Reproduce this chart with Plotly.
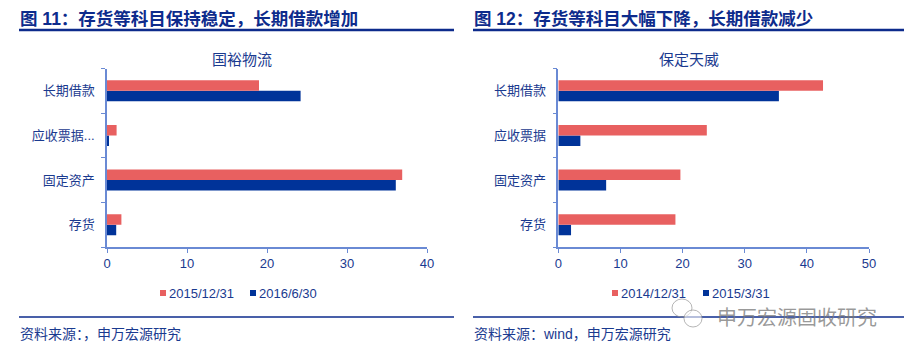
import plotly.graph_objects as go

W, H = 914, 352

# ---- data ----
cats_left = ["存货", "固定资产", "应收票据...", "长期借款"]
left_2015_12_31 = [1.8, 36.9, 1.2, 19.0]
left_2016_6_30 = [1.15, 36.1, 0.2, 24.2]

cats_right = ["存货", "固定资产", "应收票据", "长期借款"]
right_2014_12_31 = [18.85, 19.65, 23.9, 42.6]
right_2015_3_31 = [2.05, 7.7, 3.55, 35.5]

left_ticks = [0, 10, 20, 30, 40]
right_ticks = [0, 10, 20, 30, 40, 50]

title_left = "图 11：存货等科目保持稳定，长期借款增加"
title_right = "图 12：存货等科目大幅下降，长期借款减少"
sub_left = "国裕物流"
sub_right = "保定天威"
src_left = "资料来源：，申万宏源研究"
src_right = "资料来源：wind，申万宏源研究"
legend_left = ["2015/12/31", "2016/6/30"]
legend_right = ["2014/12/31", "2015/3/31"]
watermark = "申万宏源固收研究"

RED = "#E86060"
BLUE = "#003399"
NAVY = "#0D2B8C"
TXT = "#1A3A8F"
AXIS = "#6A8AD4"
FONT = "Liberation Sans, Arial, Noto Sans CJK SC, sans-serif"


def px(x):
    return x / W


def py(y):
    return 1 - y / H


fig = go.Figure()

fig.add_trace(go.Bar(y=cats_left, x=left_2016_6_30, orientation="h", marker_color=BLUE,
                     marker_line_width=0, xaxis="x", yaxis="y", showlegend=False, name=legend_left[1]))
fig.add_trace(go.Bar(y=cats_left, x=left_2015_12_31, orientation="h", marker_color=RED,
                     marker_line_width=0, xaxis="x", yaxis="y", showlegend=False, name=legend_left[0]))
fig.add_trace(go.Bar(y=cats_right, x=right_2015_3_31, orientation="h", marker_color=BLUE,
                     marker_line_width=0, xaxis="x2", yaxis="y2", showlegend=False, name=legend_right[1]))
fig.add_trace(go.Bar(y=cats_right, x=right_2014_12_31, orientation="h", marker_color=RED,
                     marker_line_width=0, xaxis="x2", yaxis="y2", showlegend=False, name=legend_right[0]))

ydom = [py(247), py(68.5)]

xcommon = dict(showgrid=False, zeroline=False, showline=True, linecolor=AXIS, linewidth=1.5,
               ticks="outside", ticklen=4, tickcolor=AXIS, tickwidth=1.2, automargin=False,
               tickfont=dict(family=FONT, size=13, color=TXT), fixedrange=True)
ycommon = dict(showgrid=False, zeroline=False, showline=True, linecolor=AXIS, linewidth=1.5,
               ticks="outside", ticklen=4, tickcolor=AXIS, tickwidth=1.2, tickson="boundaries",
               automargin=False,
               tickfont=dict(family=FONT, size=13, color=TXT), ticklabelstandoff=8, fixedrange=True)

fig.update_layout(
    template="none",
    width=W, height=H,
    margin=dict(l=0, r=0, t=0, b=0, pad=0),
    paper_bgcolor="white", plot_bgcolor="white",
    barmode="group", bargap=0.53, bargroupgap=0,
    showlegend=False,
    xaxis=dict(domain=[px(107), px(427)], range=[0, 40], tickvals=left_ticks, anchor="y", **xcommon),
    yaxis=dict(domain=ydom, anchor="x", categoryorder="array", categoryarray=cats_left, **ycommon),
    xaxis2=dict(domain=[px(558.3), px(869)], range=[0, 50], tickvals=right_ticks, anchor="y2", **xcommon),
    yaxis2=dict(domain=ydom, anchor="x2", categoryorder="array", categoryarray=cats_right, **ycommon),
    font=dict(family=FONT, color=TXT),
)

ann = []


def add_text(x, y, text, size, color=TXT, xanchor="left", bold=False):
    ann.append(dict(x=px(x), y=py(y), xref="paper", yref="paper", text=(f"<b>{text}</b>" if bold else text),
                    showarrow=False, xanchor=xanchor, yanchor="middle",
                    font=dict(family=FONT, size=size, color=color)))


add_text(18, 19, title_left, 17.5, NAVY, bold=True)
add_text(472, 19, title_right, 17.5, NAVY, bold=True)
add_text(242, 59, sub_left, 15, TXT, xanchor="center")
add_text(689, 59, sub_right, 15, TXT, xanchor="center")
add_text(18, 334, src_left, 14, TXT)
add_text(472, 334, src_right, 14, TXT)


def legend_item(x, label):
    ann.append(dict(x=px(x), y=py(293), xref="paper", yref="paper", text=label, showarrow=False,
                    xanchor="left", yanchor="middle", font=dict(family=FONT, size=13, color=TXT)))


shapes = []


def swatch(x, color):
    shapes.append(dict(type="rect", xref="paper", yref="paper", x0=px(x), x1=px(x + 6),
                       y0=py(296), y1=py(290), fillcolor=color, line=dict(width=0)))


swatch(160, RED); legend_item(167, legend_left[0])
swatch(250, BLUE); legend_item(257, legend_left[1])
swatch(612, RED); legend_item(619, legend_right[0])
swatch(703, BLUE); legend_item(710, legend_right[1])

for x0, x1 in [(19, 454), (473, 904)]:
    shapes.append(dict(type="line", xref="paper", yref="paper", x0=px(x0), x1=px(x1),
                       y0=py(30), y1=py(30), line=dict(color=NAVY, width=2.5)))
    shapes.append(dict(type="line", xref="paper", yref="paper", x0=px(x0), x1=px(x1),
                       y0=py(317), y1=py(317), line=dict(color=NAVY, width=1.5)))

# watermark overlay
ann.append(dict(x=px(797), y=py(316), xref="paper", yref="paper", text=watermark, showarrow=False,
                xanchor="center", yanchor="middle",
                font=dict(family="Noto Sans CJK SC, sans-serif", size=20, color="rgba(120,120,120,0.75)")))
shapes.append(dict(type="circle", xref="paper", yref="paper", x0=px(672), x1=px(692), y0=py(317), y1=py(299),
                   line=dict(color="rgba(150,150,150,0.7)", width=1)))
shapes.append(dict(type="circle", xref="paper", yref="paper", x0=px(684), x1=px(702), y0=py(327), y1=py(310),
                   line=dict(color="rgba(150,150,150,0.7)", width=1), fillcolor="rgba(255,255,255,0.6)"))

fig.update_layout(annotations=ann, shapes=shapes)

fig.write_html("out.html")
